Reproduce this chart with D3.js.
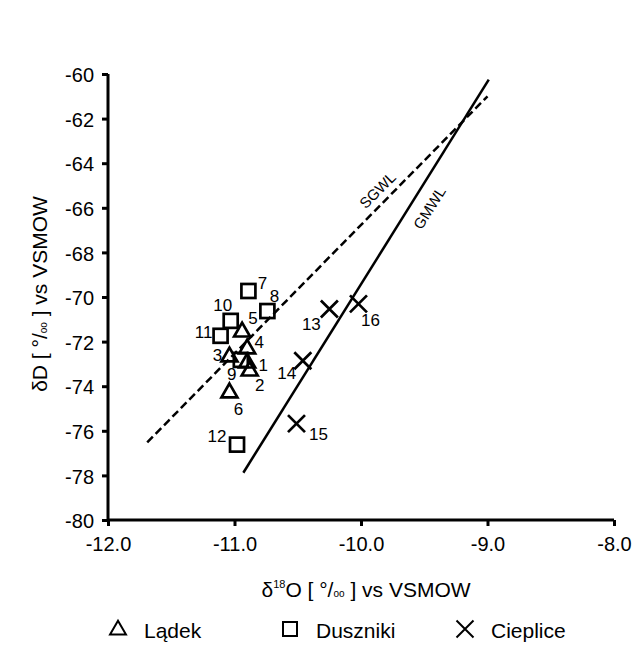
<!DOCTYPE html>
<html>
<head>
<meta charset="utf-8">
<script src="https://cdn.jsdelivr.net/npm/d3@7"></script>
<style>
  body { margin: 0; background: #fff; }
  svg { display: block; font-family: Arial, "Liberation Sans", sans-serif; }
</style>
</head>
<body>
<svg id="chart" width="636" height="647"></svg>
<script>
// ---------- data ----------
const ladekIds = ["1", "2", "3", "4", "5", "6"];
const ladekO = [-10.90, -10.88, -11.04, -10.90, -10.94, -11.04];
const ladekD = [-72.91, -73.27, -72.64, -72.28, -71.52, -74.25];

const dusznikiIds = ["7", "8", "9", "10", "11", "12"];
const dusznikiO = [-10.89, -10.74, -10.95, -11.03, -11.11, -10.98];
const dusznikiD = [-69.73, -70.63, -72.82, -71.07, -71.74, -76.62];

const ciepliceIds = ["13", "14", "15", "16"];
const ciepliceO = [-10.25, -10.46, -10.51, -10.02];
const ciepliceD = [-70.54, -72.86, -75.68, -70.31];

const sgwlO = [-11.69, -9.00];
const sgwlD = [-76.52, -61.00];
const gmwlO = [-10.93, -8.99];
const gmwlD = [-77.88, -60.25];

const xTicks = [-12, -11, -10, -9, -8];
const yTicks = [-60, -62, -64, -66, -68, -70, -72, -74, -76, -78, -80];
const legendNames = ["Lądek", "Duszniki", "Cieplice"];

// label offsets (layout only)
const labelOffsets = {
  "1": [16, 4], "2": [10, 16], "3": [-12, 0], "4": [12, -5], "5": [11, -12], "6": [9, 18],
  "7": [14, -7], "8": [7, -15], "9": [-9, 15], "10": [-8, -15], "11": [-17, -3], "12": [-20, -8],
  "13": [-18, 15], "14": [-16, 13], "15": [22, 11], "16": [12, 17]
};

// ---------- layout ----------
const svg = d3.select("#chart");
const x = d3.scaleLinear().domain([-12, -8]).range([108, 614]);
const y = d3.scaleLinear().domain([-80, -60]).range([520, 74]);

// axes
const xAxis = d3.axisBottom(x).tickValues(xTicks).tickFormat(d => d.toFixed(1)).tickSize(6).tickPadding(11);
const yAxis = d3.axisLeft(y).tickValues(yTicks).tickFormat(d => String(d)).tickSize(6).tickPadding(8);

const gx = svg.append("g").attr("transform", "translate(0,520)").call(xAxis);
const gy = svg.append("g").attr("transform", "translate(108,0)").call(yAxis);

[gx, gy].forEach(g => {
  g.select(".domain").attr("stroke", "#000").attr("stroke-width", 3);
  g.selectAll(".tick line").attr("stroke", "#000").attr("stroke-width", 3);
  g.selectAll(".tick text").attr("fill", "#000").attr("font-size", 20).attr("font-family", "Arial, 'Liberation Sans', sans-serif");
});
gx.select(".domain").attr("d", "M108,0H614");
gy.select(".domain").attr("d", "M0,520V74");
gy.selectAll(".tick text").attr("dy", "0.38em");

// lines
const line = d3.line().x(d => x(d[0])).y(d => y(d[1]));
svg.append("path")
  .attr("d", line(sgwlO.map((o, i) => [o, sgwlD[i]])))
  .attr("fill", "none").attr("stroke", "#000").attr("stroke-width", 2.5)
  .attr("stroke-dasharray", "8,4");
svg.append("path")
  .attr("d", line(gmwlO.map((o, i) => [o, gmwlD[i]])))
  .attr("fill", "none").attr("stroke", "#000").attr("stroke-width", 2.5);

// line labels
function lineLabel(text, o, d, angle) {
  svg.append("text")
    .attr("transform", `translate(${x(o)},${y(d)}) rotate(${angle})`)
    .attr("text-anchor", "middle")
    .attr("dominant-baseline", "central")
    .attr("font-size", 15)
    .text(text);
}
lineLabel("SGWL", -9.87, -65.2, -45);
lineLabel("GMWL", -9.46, -66.0, -58);

// markers
const triSym = d3.symbol().type(d3.symbolTriangle).size(110);
function drawTriangle(g, cx, cy, sw) {
  g.append("path").attr("d", triSym()).attr("transform", `translate(${cx},${cy + 1})`)
    .attr("fill", "none").attr("stroke", "#000").attr("stroke-width", sw || 2.7);
}
function drawSquare(g, cx, cy, sw) {
  g.append("rect").attr("x", cx - 7).attr("y", cy - 7).attr("width", 14).attr("height", 14)
    .attr("fill", "none").attr("stroke", "#000").attr("stroke-width", sw || 2.7);
}
function drawCross(g, cx, cy, sw) {
  const s = 8.5;
  g.append("path").attr("d", `M${cx - s},${cy - s}L${cx + s},${cy + s}M${cx - s},${cy + s}L${cx + s},${cy - s}`)
    .attr("fill", "none").attr("stroke", "#000").attr("stroke-width", sw || 2.7);
}

const pts = svg.append("g");
const lbls = svg.append("g");
function series(ids, os, ds, drawFn) {
  ids.forEach((id, i) => {
    const cx = x(os[i]), cy = y(ds[i]);
    drawFn(pts, cx, cy);
    const off = labelOffsets[id];
    lbls.append("text").attr("x", cx + off[0]).attr("y", cy + off[1])
      .attr("text-anchor", "middle").attr("dominant-baseline", "central")
      .attr("font-size", 17).text(id);
  });
}
series(ladekIds, ladekO, ladekD, drawTriangle);
series(dusznikiIds, dusznikiO, dusznikiD, drawSquare);
series(ciepliceIds, ciepliceO, ciepliceD, drawCross);

// axis titles
const xt = svg.append("text").attr("x", 366).attr("y", 597).attr("text-anchor", "middle").attr("font-size", 21);
xt.append("tspan").text("δ");
xt.append("tspan").attr("font-size", 11).attr("dy", -9).text("18");
xt.append("tspan").attr("dy", 9).text("O  [ °/");
xt.append("tspan").attr("font-size", 10).text("oo");
xt.append("tspan").text(" ] vs VSMOW");

const yt = svg.append("text").attr("transform", "translate(47,294) rotate(-90)").attr("text-anchor", "middle").attr("font-size", 21);
yt.append("tspan").text("δD  [ °/");
yt.append("tspan").attr("font-size", 10).text("oo");
yt.append("tspan").text(" ] vs VSMOW");

// legend
const legX = [118, 290, 465];
const legY = 630;
const lg = svg.append("g");
drawTriangle(lg, legX[0], legY - 1, 2);
drawSquare(lg, legX[1], legY - 1, 2);
drawCross(lg, legX[2], legY - 1, 2);
legendNames.forEach((n, i) => {
  lg.append("text").attr("x", legX[i] + 26).attr("y", legY).attr("dominant-baseline", "central")
    .attr("font-size", 21).text(n);
});
</script>
</body>
</html>
